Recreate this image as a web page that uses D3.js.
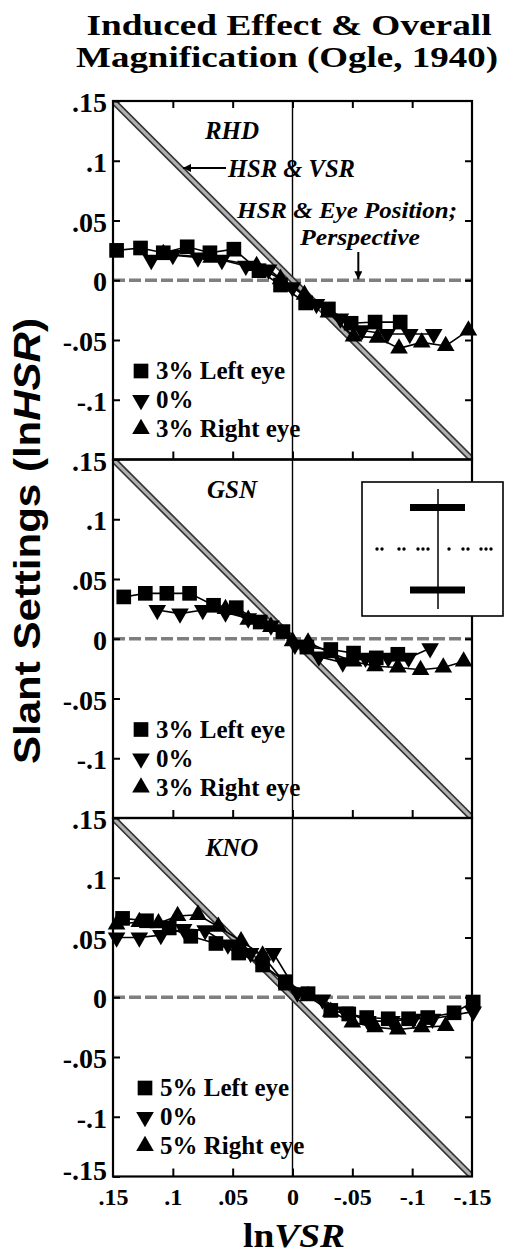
<!DOCTYPE html>
<html><head><meta charset="utf-8">
<script src="https://cdn.jsdelivr.net/npm/d3@7"></script>
<style>body{margin:0;background:#fff}svg{display:block}</style>
</head><body>
<svg id="c" width="509" height="1255"></svg>
<script>
// ---------------- data ----------------
const titleLines = ["Induced Effect & Overall", "Magnification (Ogle, 1940)"];
const subjects = ["RHD", "GSN", "KNO"];
const xTicks = [0.15, 0.1, 0.05, 0, -0.05, -0.1, -0.15];
const xTickLabels = [".15", ".1", ".05", "0", "-.05", "-.1", "-.15"];
const yTicks = [0.15, 0.1, 0.05, 0, -0.05, -0.1, -0.15];
const yTickLabels = [".15", ".1", ".05", "0", "-.05", "-.1", "-.15"];
const legendRHD = ["3% Left eye", "0%", "3% Right eye"];
const legendGSN = ["3% Left eye", "0%", "3% Right eye"];
const legendKNO = ["5% Left eye", "0%", "5% Right eye"];

// [lnVSR, lnHSR]
const rhdLeft = [[0.147,0.025],[0.127,0.027],[0.108,0.023],[0.088,0.028],[0.069,0.023],[0.049,0.026],[0.028,0.008],[0.010,-0.004],[-0.011,-0.019],[-0.030,-0.024],[-0.049,-0.036],[-0.069,-0.035],[-0.090,-0.035]];
const rhdZero = [[0.118,0.017],[0.100,0.021],[0.079,0.019],[0.059,0.017],[0.039,0.012],[0.020,0.009],[0.000,-0.006],[-0.020,-0.020],[-0.040,-0.032],[-0.058,-0.042],[-0.079,-0.045],[-0.098,-0.045],[-0.118,-0.045]];
const rhdRight = [[0.108,0.022],[0.068,0.019],[0.030,0.012],[0.010,0.001],[-0.010,-0.012],[-0.030,-0.027],[-0.051,-0.047],[-0.071,-0.048],[-0.089,-0.057],[-0.108,-0.052],[-0.128,-0.055],[-0.147,-0.042]];

const gsnLeft = [[0.141,0.035],[0.123,0.038],[0.105,0.038],[0.086,0.038],[0.066,0.028],[0.047,0.026],[0.027,0.014],[0.008,0.006],[-0.012,-0.007],[-0.032,-0.009],[-0.051,-0.012],[-0.070,-0.016],[-0.088,-0.013]];
const gsnZero = [[0.113,0.024],[0.094,0.021],[0.075,0.024],[0.056,0.022],[0.037,0.017],[0.018,0.011],[-0.002,-0.005],[-0.022,-0.015],[-0.042,-0.020],[-0.061,-0.016],[-0.080,-0.016],[-0.097,-0.016],[-0.115,-0.008]];
const gsnRight = [[0.056,0.025],[0.037,0.016],[0.018,0.010],[0.000,-0.002],[-0.013,-0.003],[-0.032,-0.012],[-0.051,-0.019],[-0.069,-0.023],[-0.088,-0.024],[-0.107,-0.026],[-0.126,-0.024],[-0.143,-0.019]];

const knoLeft = [[0.142,0.066],[0.122,0.064],[0.103,0.058],[0.085,0.051],[0.064,0.045],[0.045,0.037],[0.025,0.027],[0.006,0.013],[-0.013,0.003],[-0.032,-0.011],[-0.047,-0.014],[-0.062,-0.017],[-0.080,-0.018],[-0.097,-0.018],[-0.113,-0.017],[-0.135,-0.013],[-0.151,-0.004]];
const knoZero = [[0.147,0.050],[0.128,0.050],[0.110,0.052],[0.091,0.057],[0.073,0.056],[0.054,0.044],[0.035,0.037],[0.016,0.037],[-0.004,0.004],[-0.025,-0.002],[-0.044,-0.012],[-0.063,-0.020],[-0.083,-0.020],[-0.101,-0.018],[-0.117,-0.018],[-0.151,-0.012]];
const knoRight = [[0.147,0.061],[0.128,0.063],[0.112,0.062],[0.096,0.068],[0.079,0.069],[0.062,0.059],[0.043,0.047],[0.025,0.035],[0.005,0.010],[-0.013,0.001],[-0.032,-0.012],[-0.050,-0.021],[-0.069,-0.025],[-0.088,-0.027],[-0.108,-0.025],[-0.128,-0.024]];

const panels = [
  {name: subjects[0], legend: legendRHD, series: [rhdLeft, rhdZero, rhdRight]},
  {name: subjects[1], legend: legendGSN, series: [gsnLeft, gsnZero, gsnRight]},
  {name: subjects[2], legend: legendKNO, series: [knoLeft, knoZero, knoRight]}
];

// ---------------- layout ----------------
const SERIF = "'Liberation Serif','Times New Roman',serif";
const SANS = "'Liberation Sans',Arial,sans-serif";
const svg = d3.select("#c");
const L = 113, R = 472, TOP = 101, PH = 358.5;
const x = d3.scaleLinear().domain([0.15, -0.15]).range([L, R]);

const defs = svg.append("defs");
defs.append("marker").attr("id", "ah").attr("viewBox", "0 0 10 10")
  .attr("refX", 10).attr("refY", 5).attr("markerWidth", 10).attr("markerHeight", 8)
  .attr("markerUnits", "userSpaceOnUse").attr("orient", "auto")
  .append("path").attr("d", "M0,0 L10,5 L0,10 Z").attr("fill", "#000");

const symSquare = d3.symbol().type(d3.symbolSquare).size(215);
const symTri = d3.symbol().type(d3.symbolTriangle).size(135);
const markerPath = [symSquare(), symTri(), symTri()];
const markerRot = [0, 180, 0];

// title
svg.append("text").attr("x", 289).attr("y", 35).attr("text-anchor", "middle")
  .attr("font-family", SERIF).attr("font-weight", "bold").attr("font-size", 29)
  .attr("textLength", 405).attr("lengthAdjust", "spacingAndGlyphs").text(titleLines[0]);
svg.append("text").attr("x", 287).attr("y", 67).attr("text-anchor", "middle")
  .attr("font-family", SERIF).attr("font-weight", "bold").attr("font-size", 29)
  .attr("textLength", 422).attr("lengthAdjust", "spacingAndGlyphs").text(titleLines[1]);

panels.forEach((p, pi) => {
  const top = TOP + pi * PH, bot = top + PH;
  const y = d3.scaleLinear().domain([0.15, -0.15]).range([top, bot]);
  const g = svg.append("g");
  const cid = "clip" + pi;
  defs.append("clipPath").attr("id", cid).append("rect")
    .attr("x", L).attr("y", top).attr("width", R - L).attr("height", PH);
  const inner = g.append("g").attr("clip-path", `url(#${cid})`);

  // zero (dashed) line
  inner.append("line").attr("x1", x(0.15)).attr("x2", x(-0.15)).attr("y1", y(0)).attr("y2", y(0))
    .attr("stroke", "#7f7f7f").attr("stroke-width", 3.4).attr("stroke-dasharray", "12,4");
  // vertical x=0 line
  inner.append("line").attr("x1", x(0)).attr("x2", x(0)).attr("y1", top).attr("y2", bot)
    .attr("stroke", "#000").attr("stroke-width", 1.4);
  // diagonal HSR = VSR
  inner.append("line").attr("x1", x(0.15)).attr("y1", y(0.15)).attr("x2", x(-0.15)).attr("y2", y(-0.15))
    .attr("stroke", "#333").attr("stroke-width", 6.5);
  inner.append("line").attr("x1", x(0.15)).attr("y1", y(0.15)).attr("x2", x(-0.15)).attr("y2", y(-0.15))
    .attr("stroke", "#b0b0b0").attr("stroke-width", 3.2);

  // data lines
  const line = d3.line().x(d => x(d[0])).y(d => y(d[1]));
  p.series.forEach(s => {
    g.append("path").attr("d", line(s)).attr("fill", "none").attr("stroke", "#000").attr("stroke-width", 1.6);
  });
  // markers
  p.series.forEach((s, si) => {
    g.selectAll(null).data(s).enter().append("path")
      .attr("d", markerPath[si])
      .attr("transform", d => `translate(${x(d[0])},${y(d[1])}) rotate(${markerRot[si]})`)
      .attr("fill", "#000");
  });

  // frame
  g.append("rect").attr("x", L).attr("y", top).attr("width", R - L).attr("height", PH)
    .attr("fill", "none").attr("stroke", "#000").attr("stroke-width", 2.2);

  // axes
  const yLabs = pi < 2 ? yTicks.slice(0, 6) : yTicks;
  const ax = g.append("g").attr("transform", `translate(${L},0)`)
    .call(d3.axisLeft(y).tickValues(yLabs).tickFormat(d => yTickLabels[yTicks.indexOf(d)])
      .tickSizeInner(-7).tickSizeOuter(0).tickPadding(6));
  ax.select(".domain").remove();
  ax.selectAll("line").attr("stroke-width", 2);
  ax.selectAll("text").attr("font-family", SERIF).attr("font-weight", "bold")
    .attr("font-size", 28).attr("fill", "#000").attr("dy", "0.38em");
  if (pi === 2) ax.selectAll(".tick").filter(d => d === -0.15).select("text").attr("dy", "0.1em");

  const ar = g.append("g").attr("transform", `translate(${R},0)`)
    .call(d3.axisRight(y).tickValues(yTicks.slice(1, 6)).tickFormat("").tickSizeInner(-7).tickSizeOuter(0));
  ar.select(".domain").remove();
  ar.selectAll("line").attr("stroke-width", 2);

  const ab = g.append("g").attr("transform", `translate(0,${bot})`)
    .call(d3.axisBottom(x).tickValues(pi === 2 ? xTicks : xTicks.slice(1, 6))
      .tickFormat(pi === 2 ? (d => xTickLabels[xTicks.indexOf(d)]) : "")
      .tickSizeInner(-8).tickSizeOuter(0).tickPadding(11));
  ab.select(".domain").remove();
  ab.selectAll("line").attr("stroke-width", 2);
  ab.selectAll("text").attr("font-family", SERIF).attr("font-weight", "bold")
    .attr("font-size", 24).attr("fill", "#000");
  if (pi === 2) ab.selectAll(".tick").filter(d => Math.abs(d) === 0.15).select("line").remove();

  if (pi === 0) {
    const at = g.append("g").attr("transform", `translate(0,${top})`)
      .call(d3.axisTop(x).tickValues(xTicks.slice(1, 6)).tickFormat("").tickSizeInner(-7).tickSizeOuter(0));
    at.select(".domain").remove();
    at.selectAll("line").attr("stroke-width", 2);
  }

  // subject name
  g.append("text").attr("x", 232).attr("y", top + 38).attr("text-anchor", "middle")
    .attr("font-family", SERIF).attr("font-weight", "bold").attr("font-style", "italic")
    .attr("font-size", 25).text(p.name);

  // legend
  const lx = pi === 2 ? 145 : 141;
  p.legend.forEach((t, li) => {
    const by = top + 278 + li * 29;
    g.append("path").attr("d", markerPath[li])
      .attr("transform", `translate(${lx},${by - 8}) rotate(${markerRot[li]})`).attr("fill", "#000");
    g.append("text").attr("x", lx + 15).attr("y", by).attr("font-family", SERIF)
      .attr("font-weight", "bold").attr("font-size", 25).text(t);
  });

  // annotations (panel 1)
  if (pi === 0) {
    const yv = 0.094;
    g.append("line").attr("x1", 226).attr("y1", y(yv)).attr("x2", x(yv) + 3).attr("y2", y(yv))
      .attr("stroke", "#000").attr("stroke-width", 2).attr("marker-end", "url(#ah)");
    g.append("text").attr("x", 228).attr("y", 177).attr("font-family", SERIF)
      .attr("font-weight", "bold").attr("font-style", "italic").attr("font-size", 25)
      .attr("textLength", 127).attr("lengthAdjust", "spacingAndGlyphs").text("HSR & VSR");
    g.append("text").attr("x", 237).attr("y", 218).attr("font-family", SERIF)
      .attr("font-weight", "bold").attr("font-style", "italic").attr("font-size", 24)
      .attr("textLength", 220).attr("lengthAdjust", "spacingAndGlyphs").text("HSR & Eye Position;");
    g.append("text").attr("x", 300).attr("y", 245).attr("font-family", SERIF)
      .attr("font-weight", "bold").attr("font-style", "italic").attr("font-size", 24)
      .attr("textLength", 120).attr("lengthAdjust", "spacingAndGlyphs").text("Perspective");
    g.append("line").attr("x1", x(-0.055)).attr("x2", x(-0.055)).attr("y1", 252).attr("y2", y(0) - 1)
      .attr("stroke", "#000").attr("stroke-width", 2).attr("marker-end", "url(#ah)");
  }

  // inset schematic (panel 2)
  if (pi === 1) {
    const ig = g.append("g");
    ig.append("rect").attr("x", 362).attr("y", 482).attr("width", 141).attr("height", 134)
      .attr("fill", "#fff").attr("stroke", "#000").attr("stroke-width", 1.6);
    ig.append("line").attr("x1", 438).attr("x2", 438).attr("y1", 489).attr("y2", 609)
      .attr("stroke", "#000").attr("stroke-width", 1.5);
    [507.5, 590].forEach(yy => ig.append("rect").attr("x", 410).attr("y", yy - 3.5)
      .attr("width", 55).attr("height", 7).attr("fill", "#000"));
    [377, 382, 399, 404, 418, 423, 428, 449, 463, 468, 481, 486, 491].forEach(dx =>
      ig.append("circle").attr("cx", dx).attr("cy", 549).attr("r", 1.7).attr("fill", "#000"));
  }
});

// axis titles
const yl = svg.append("text").attr("transform", "translate(40,541) rotate(-90)")
  .attr("text-anchor", "middle").attr("font-family", SANS).attr("font-weight", "bold")
  .attr("font-size", 36).attr("textLength", 446).attr("lengthAdjust", "spacingAndGlyphs");
yl.append("tspan").text("Slant Settings (ln");
yl.append("tspan").attr("font-style", "italic").text("HSR");
yl.append("tspan").text(")");

const xl = svg.append("text").attr("x", 294).attr("y", 1247).attr("text-anchor", "middle")
  .attr("font-family", SERIF).attr("font-weight", "bold").attr("font-size", 33)
  .attr("textLength", 102).attr("lengthAdjust", "spacingAndGlyphs");
xl.append("tspan").text("ln");
xl.append("tspan").attr("font-style", "italic").text("VSR");
</script>
</body></html>
